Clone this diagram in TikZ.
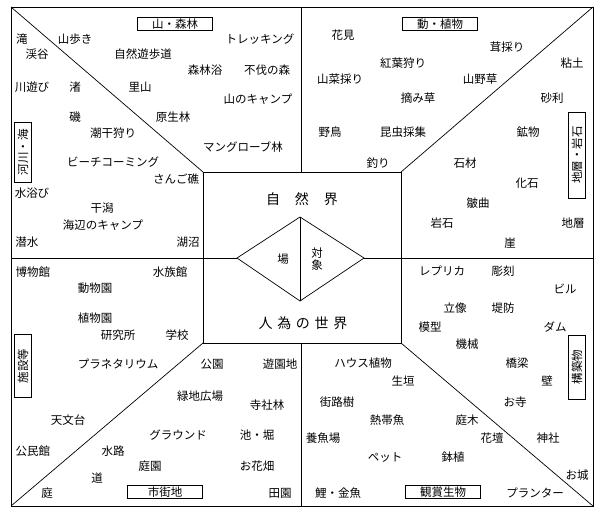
\documentclass[tikz,border=0pt]{standalone}
\usepackage{fontspec}
\newfontfamily\jpfont{Noto Sans CJK JP}
\usetikzlibrary{positioning}

\tikzset{
  word/.style={font=\jpfont\fontsize{11.5}{13}\selectfont, inner sep=0pt},
  realm/.style={font=\jpfont\fontsize{14}{16}\selectfont, inner sep=0pt},
  tagbox/.style={draw, line width=0.7pt, font=\jpfont\fontsize{11.5}{13}\selectfont,
    minimum width=75pt, minimum height=13pt, inner sep=1pt},
  vtag/.style={tagbox, rotate=90, minimum height=17pt},
  part/.style={line width=0.7pt}
}

\begin{document}
\begin{tikzpicture}[x=1pt,y=-1pt]
\useasboundingbox (0,0) rectangle (600,515);

% Frame and inner field
\coordinate (otl) at (11,7);   \coordinate (otr) at (593,7);
\coordinate (obl) at (11,506); \coordinate (obr) at (593,506);
\coordinate (itl) at (203,172); \coordinate (itr) at (401,172);
\coordinate (ibl) at (203,343); \coordinate (ibr) at (401,343);
\coordinate (otm) at (301,7);   \coordinate (itm) at (301,172);
\coordinate (ibm) at (301,343); \coordinate (obm) at (301,506);
\coordinate (oml) at (11,258);  \coordinate (omr) at (593,258);

\draw[part] (otl) rectangle (obr);
\draw[part] (itl) rectangle (ibr);
\draw[part] (otl) -- (itl) (otr) -- (itr) (obl) -- (ibl) (obr) -- (ibr);
\draw[part] (otm) -- (itm) (ibm) -- (obm);

% Diamond in the middle
\coordinate (dl) at (237,258); \coordinate (dr) at (364,258);
\coordinate (dt) at (300,217); \coordinate (db) at (300,301);
\draw[part] (dl) -- (dt) -- (dr) -- (db) -- cycle;
\draw[part] (dt) -- (db);
\draw[part] (oml) -- (dl) (dr) -- (omr);

\node[realm] (nature) at (302,199) {自\hspace{15pt}然\hspace{15pt}界};
\node[realm] (human) at (303,323) {人\hspace{4.7pt}為\hspace{4.7pt}の\hspace{4.7pt}世\hspace{4.7pt}界};
\node[word] (place) at (283,259) {場};
\node[word, align=center] (object) at (317,259) {対\\[-1pt]象};

% Category boxes
\node[tagbox] (forest) at (175,24) {山・森林};
\node[tagbox] (flora) at (440,24) {動・植物};
\node[tagbox] (town) at (165,492) {市街地};
\node[tagbox] (fancy) at (443,492) {観賞生物};
\node[vtag, minimum width=60pt] (river) at (23,152) {河川・海};
\node[vtag, minimum width=86pt] (rock) at (577,155) {地層・岩石};
\node[vtag, minimum width=63pt] (facility) at (23,366) {施設等};
\node[vtag, minimum width=64pt] (build) at (577,367) {構築物};

% Mountain and forest
\foreach \t/\x/\y [count=\i] in {山歩き/75/39, トレッキング/260/39, 自然遊歩道/143/54,
  森林浴/205/70, 不伐の森/267/70, 里山/140/87, 山のキャンプ/258/99,
  原生林/173/117, マングローブ林/243/147}
  \node[word] (mt\i) at (\x,\y) {\t};

% Rivers and sea
\foreach \t/\x/\y [count=\i] in {滝/22/39, 渓谷/37/54, 川遊び/32/87, 渚/75/87,
  磯/75/117, 潮干狩り/113/133, ビーチコーミング/113/162, さんご礁/176/179,
  水浴び/32/193, 干潟/102/208, 海辺のキャンプ/103/225, 潜水/27/242, 湖沼/188/242}
  \node[word] (rv\i) at (\x,\y) {\t};

% Animals and plants
\foreach \t/\x/\y [count=\i] in {花見/343/35, 茸採り/507/47, 紅葉狩り/403/63,
  山菜採り/340/79, 山野草/480/79, 摘み草/418/98, 野鳥/330/132,
  昆虫採集/403/132, 釣り/378/163}
  \node[word] (fl\i) at (\x,\y) {\t};

% Strata and rocks
\foreach \t/\x/\y [count=\i] in {粘土/572/63, 砂利/552/98, 鉱物/528/132,
  石材/465/163, 化石/527/183, 皺曲/478/203, 岩石/442/223, 地層/573/223, 崖/510/243}
  \node[word] (rk\i) at (\x,\y) {\t};

% Facilities
\foreach \t/\x/\y [count=\i] in {博物館/33/272, 水族館/170/272, 動物園/95/288,
  植物園/95/318, 研究所/118/335, 学校/177/335, プラネタリウム/118/364,
  天文台/68/420, 公民館/33/451}
  \node[word] (fc\i) at (\x,\y) {\t};

% Town
\foreach \t/\x/\y [count=\i] in {公園/212/364, 遊園地/280/364, 緑地広場/200/396,
  寺社林/267/405, グラウンド/178/435, 池・堀/257/435, 水路/113/451,
  庭園/150/466, お花畑/257/466, 道/97/478, 庭/47/493, 田園/280/493}
  \node[word] (tw\i) at (\x,\y) {\t};

% Ornamental living things
\foreach \t/\x/\y [count=\i] in {ハウス植物/363/363, 生垣/403/381, 街路樹/337/402,
  熱帯魚/387/420, 庭木/467/420, 養魚場/323/438, 花壇/492/438,
  ペット/385/457, 鉢植/453/457, 鯉・金魚/338/493}
  \node[word] (or\i) at (\x,\y) {\t};

% Structures
\foreach \t/\x/\y [count=\i] in {レプリカ/442/271, 彫刻/503/271, ビル/565/289,
  立像/455/308, 堤防/503/308, 模型/430/327, ダム/555/327, 機械/467/344,
  橋梁/517/363, 壁/547/381, お寺/515/402, 神社/548/438, お城/577/475,
  プランター/535/493}
  \node[word] (st\i) at (\x,\y) {\t};

\end{tikzpicture}
\end{document}
